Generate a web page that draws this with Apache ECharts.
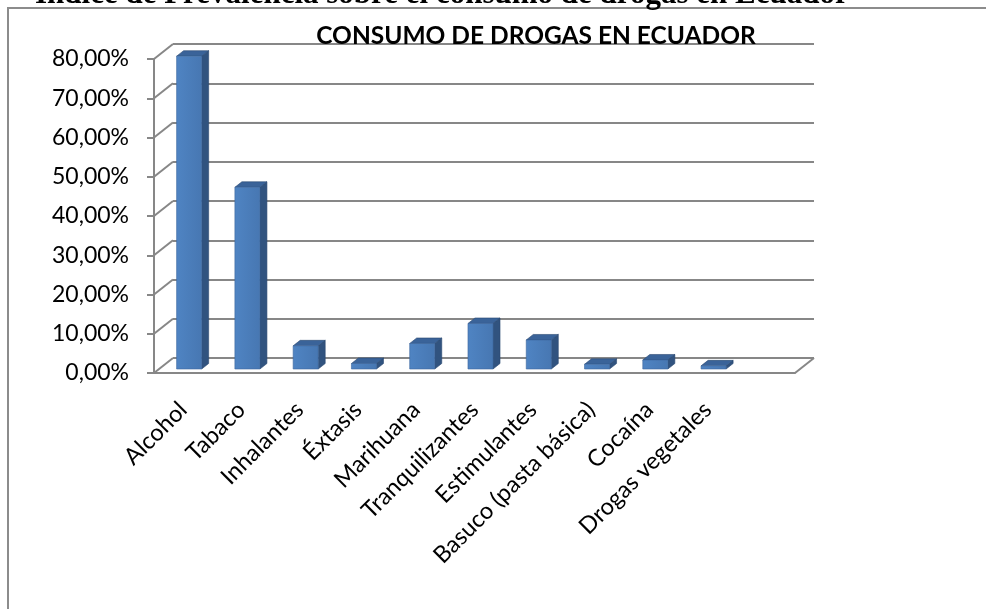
<!DOCTYPE html>
<html>
<head>
<meta charset="utf-8">
<script src="https://cdn.jsdelivr.net/npm/echarts@6/dist/echarts.min.js"></script>
<style>
html, body { margin: 0; padding: 0; background: #fff; }
#chart { width: 986px; height: 609px; }
</style>
</head>
<body>
<div id="chart"></div>
<script>
var docTitle = 'Índice de Prevalencia sobre el consumo de drogas en Ecuador';
var chartTitle = 'CONSUMO DE DROGAS EN ECUADOR';
var categories = ['Alcohol', 'Tabaco', 'Inhalantes', 'Éxtasis', 'Marihuana', 'Tranquilizantes',
    'Estimulantes', 'Basuco (pasta básica)', 'Cocaína', 'Drogas vegetales', ''];
var consumo = [0.797, 0.463, 0.059, 0.014, 0.065, 0.116, 0.074, 0.012, 0.023, 0.008];
var yTicks = [0, 0.1, 0.2, 0.3, 0.4, 0.5, 0.6, 0.7, 0.8];

var gridColor = '#878787';
var wall = [19, -15];      // desplazamiento de la pared del fondo
var barShift = [6, -4];    // posicion de la cara frontal de la barra
var barDepth = [7, -5.5];
var barRatio = 0.43;

function pct(v) {
    return (v * 100).toFixed(2).replace('.', ',') + '%';
}

function renderBar(params, api) {
    var c = api.coord([api.value(0), api.value(1)]);
    var z = api.coord([api.value(0), 0]);
    var bw = api.size([1, 0])[0] * barRatio;
    var xl = c[0] + barShift[0] - bw / 2, xr = xl + bw;
    var yt = c[1] + barShift[1], yb = z[1] + barShift[1];
    var dx = barDepth[0], dy = barDepth[1];
    return {
        type: 'group',
        children: [{
            type: 'polygon',
            shape: { points: [[xr, yt], [xr + dx, yt + dy], [xr + dx, yb + dy], [xr, yb]] },
            style: { fill: '#31537f', stroke: '#2a4870', lineWidth: 0.6 }
        }, {
            type: 'polygon',
            shape: { points: [[xl, yt], [xr, yt], [xr + dx, yt + dy], [xl + dx, yt + dy]] },
            style: { fill: '#3a6399', stroke: '#2a4870', lineWidth: 0.6 }
        }, {
            type: 'rect',
            shape: { x: xl, y: yt, width: bw, height: yb - yt },
            style: {
                fill: new echarts.graphic.LinearGradient(0, 0, 1, 0, [
                    { offset: 0, color: '#4f84c3' },
                    { offset: 1, color: '#4777b2' }
                ]),
                stroke: '#3d679d', lineWidth: 0.6
            }
        }]
    };
}

// lineas diagonales de los ticks del eje Y y borde derecho del piso
function renderEdge(params, api) {
    var c = api.coord([api.value(0), api.value(1)]);
    var half = api.size([1, 0])[0] / 2;
    var x = c[0] + (api.value(2) < 0 ? -half : half);
    return {
        type: 'line',
        shape: { x1: x, y1: c[1], x2: x + wall[0], y2: c[1] + wall[1] },
        style: { stroke: gridColor, lineWidth: 2 }
    };
}

var edges = yTicks.map(function (v) { return [0, v, -1]; });
edges.push([categories.length - 1, 0, 1]);

var option = {
    animation: false,
    textStyle: { fontFamily: 'Lato' },
    grid: [
        { left: 154, top: 59, width: 641, height: 314 },
        { left: 154 + wall[0], top: 59 + wall[1], width: 641, height: 314 }
    ],
    xAxis: [{
        type: 'category',
        gridIndex: 0,
        data: categories,
        axisLine: { lineStyle: { color: gridColor, width: 2 } },
        axisTick: { length: 6, lineStyle: { color: gridColor, width: 2 } },
        axisLabel: { rotate: 45, margin: 33, color: '#000', fontSize: 23.5, fontFamily: 'Lato', interval: 0 }
    }, {
        type: 'category',
        gridIndex: 1,
        data: categories,
        show: false
    }],
    yAxis: [{
        type: 'value',
        gridIndex: 0,
        min: 0, max: 0.8, interval: 0.1,
        axisLine: { show: true, lineStyle: { color: gridColor, width: 2 } },
        axisTick: { show: true, length: 7, lineStyle: { color: gridColor, width: 2 } },
        splitLine: { show: false },
        axisLabel: { formatter: pct, margin: 25, color: '#000', fontSize: 23, fontFamily: 'Lato' }
    }, {
        type: 'value',
        gridIndex: 1,
        min: 0, max: 0.8, interval: 0.1,
        axisLine: { show: false },
        axisTick: { show: false },
        axisLabel: { show: false },
        splitLine: { show: true, lineStyle: { color: gridColor, width: 2 } }
    }],
    graphic: [{
        type: 'polyline',
        shape: { points: [[8, 609], [8, 8], [986, 8]] },
        style: { stroke: '#8c8c8c', lineWidth: 2, fill: null }
    }, {
        type: 'text',
        x: 35, y: -5,
        style: {
            text: docTitle,
            font: 'bold 31px "Liberation Serif"',
            fill: '#000',
            verticalAlign: 'middle'
        }
    }, {
        type: 'text',
        x: 536, y: 36,
        z: 10,
        style: {
            text: chartTitle,
            font: 'bold 24.5px Lato',
            fill: '#000',
            align: 'center',
            verticalAlign: 'middle'
        }
    }],
    series: [{
        type: 'custom',
        name: 'bordes',
        xAxisIndex: 0,
        yAxisIndex: 0,
        renderItem: renderEdge,
        data: edges,
        z: 1
    }, {
        type: 'custom',
        name: 'Consumo',
        xAxisIndex: 0,
        yAxisIndex: 0,
        renderItem: renderBar,
        data: consumo.map(function (v, i) { return [i, v]; }),
        z: 5
    }]
};

var myChart = echarts.init(document.getElementById('chart'));
myChart.setOption(option);
</script>
</body>
</html>
